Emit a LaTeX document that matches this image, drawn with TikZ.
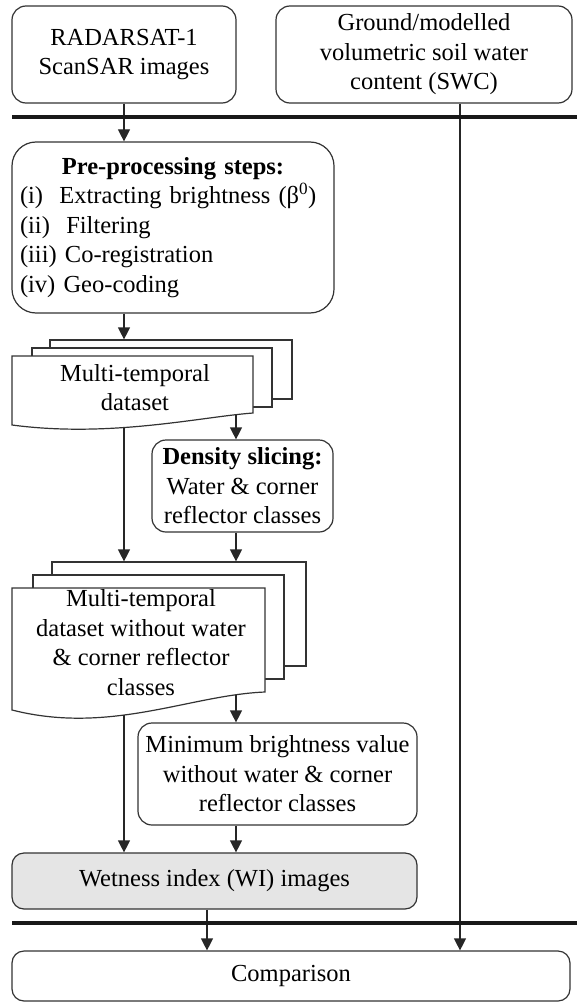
\documentclass[tikz,border=0pt]{standalone}
\usepackage{fontspec}
\setmainfont{Liberation Serif}
\usetikzlibrary{arrows.meta}

\begin{document}
\begin{tikzpicture}[
    x=1pt, y=-1pt,
    font=\fontsize{24.5}{29.5}\selectfont,
    stepbox/.style={
      rectangle, draw=black!80, line width=1.2pt, rounded corners=14pt,
      align=center, inner sep=0pt, fill=white
    },
    page/.style={rectangle, draw=black!80, line width=1.2pt, fill=white, inner sep=0pt},
    doctext/.style={align=center, inner sep=0pt},
    flow/.style={-{Triangle[length=12pt, width=12pt]}, line width=1.2pt, black!85},
    bar/.style={line width=4pt, black!90}
  ]
    \useasboundingbox (0,0) rectangle (577,1003);

    % columns of the vertical connectors
    \coordinate (lcol) at (124,0);
    \coordinate (rcol) at (236,0);
    \coordinate (wcol) at (207,0);
    \coordinate (scol) at (460,0);

    % inputs
    \node[stepbox, minimum width=224pt, minimum height=97pt] (radar) at (124,54.5)
      {RADARSAT-1\\ScanSAR images};
    \node[stepbox, minimum width=296pt, minimum height=97pt] (swc) at (424,54.5)
      {Ground/modelled\\volumetric soil water\\content (SWC)};

    \node[stepbox, rounded corners=24pt, align=left, text width=306pt, inner xsep=8pt,
      minimum height=171pt] (prep) at (173,227.5) {%
      \makebox[306pt]{\textbf{Pre-processing steps:}}\\
      (i)\ \ Extracting brightness (β\textsuperscript{0})\\
      (ii)\ \ Filtering\\
      (iii) Co-registration\\
      (iv) Geo-coding
    };

    % multi-temporal dataset (stack of pages)
    \node[page, minimum width=242pt, minimum height=59pt] (mtd3) at (171,369.5) {};
    \node[page, minimum width=240pt, minimum height=59pt] (mtd2) at (152,377.5) {};
    \draw[page] (12,356) -- (253,356) -- (253,413)
      .. controls (200,417) and (110,438) .. (12,425) -- cycle;
    \node[doctext] (mtd) at (135,387.5) {Multi-temporal\\dataset};
    \coordinate (mtdlo) at (124,427.5);
    \coordinate (mtdro) at (236,414.6);

    \node[stepbox, minimum width=181pt, minimum height=92pt] (dens) at (242.5,486)
      {\textbf{Density slicing:}\\Water \& corner\\reflector classes};

    % dataset without water & corner reflector classes
    \node[page, minimum width=254pt, minimum height=104pt] (mtw3) at (179,614) {};
    \node[page, minimum width=251pt, minimum height=104pt] (mtw2) at (158.5,627) {};
    \draw[page] (12,588) -- (265,588) -- (265,692)
      .. controls (190,695) and (110,735) .. (12,710) -- cycle;
    \node[doctext] (mtw) at (141,642.5)
      {Multi-temporal\\dataset without water\\\& corner reflector\\classes};
    \coordinate (mtwlo) at (124,715);
    \coordinate (mtwro) at (236,694.6);

    \node[stepbox, minimum width=279pt, minimum height=102pt] (minb) at (277.5,774)
      {Minimum brightness value\\without water \& corner\\reflector classes};

    \node[stepbox, rounded corners=12pt, fill=black!10, minimum width=405pt,
      minimum height=56pt] (wi) at (214.5,881) {Wetness index (WI) images};

    \node[stepbox, rounded corners=12pt, minimum width=558pt, minimum height=50pt]
      (comp) at (291,976) {Comparison};

    % connectors
    \draw[flow] (radar.south) -- (prep.north -| radar.south);
    \draw[flow] (prep.south -| lcol) -- (mtd3.north -| lcol);
    \draw[flow] (mtdro) -- (dens.north -| rcol);
    \draw[flow] (mtdlo) -- (mtw3.north -| lcol);
    \draw[flow] (dens.south -| rcol) -- (mtw3.north -| rcol);
    \draw[flow] (mtwro) -- (minb.north -| rcol);
    \draw[flow] (mtwlo) -- (wi.north -| lcol);
    \draw[flow] (minb.south -| rcol) -- (wi.north -| rcol);
    \draw[flow] (wi.south -| wcol) -- (comp.north -| wcol);
    \draw[flow] (swc.south -| scol) -- (comp.north -| scol);

    % separators
    \draw[bar] (12,117) -- (577,117);
    \draw[bar] (12,923) -- (577,923);
\end{tikzpicture}
\end{document}
